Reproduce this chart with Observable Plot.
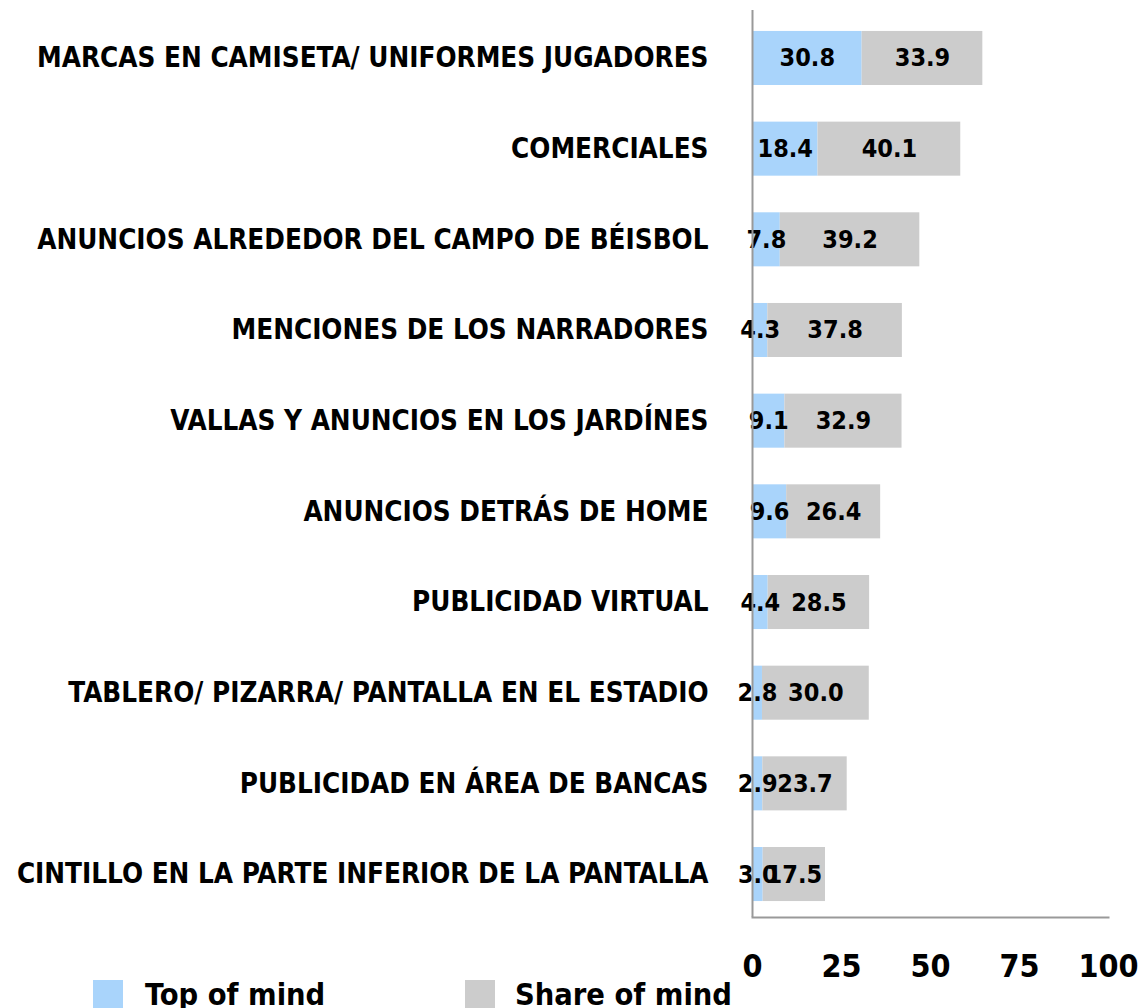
<!DOCTYPE html>
<html>
<head>
<meta charset="utf-8">
<script src="https://cdn.jsdelivr.net/npm/d3@7"></script>
<script src="https://cdn.jsdelivr.net/npm/@observablehq/plot@0.6"></script>
<style>
  html, body { margin: 0; padding: 0; background: #fff; }
  body { width: 1142px; height: 1008px; position: relative; overflow: hidden;
         font-family: "DejaVu Sans Condensed", "DejaVu Sans", sans-serif; font-stretch: condensed; }
  #chart svg { display: block; }
  #legend { position: absolute; top: 980px; left: 0; width: 1142px; height: 40px; }
  .item { position: absolute; top: 0; display: flex; align-items: flex-start; }
  .sw { width: 30px; height: 30px; display: inline-block; }
  .lab { font-weight: bold; font-size: 30.5px; line-height: 1; margin-top: 0px; color: #000; }
</style>
</head>
<body>
<div id="chart"></div>
<div id="legend"></div>
<script>
const categories = [
  "MARCAS EN CAMISETA/ UNIFORMES JUGADORES",
  "COMERCIALES",
  "ANUNCIOS ALREDEDOR DEL CAMPO DE BÉISBOL",
  "MENCIONES DE LOS NARRADORES",
  "VALLAS Y ANUNCIOS EN LOS JARDÍNES",
  "ANUNCIOS DETRÁS DE HOME",
  "PUBLICIDAD VIRTUAL",
  "TABLERO/ PIZARRA/ PANTALLA EN EL ESTADIO",
  "PUBLICIDAD EN ÁREA DE BANCAS",
  "CINTILLO EN LA PARTE INFERIOR DE LA PANTALLA"
];
const topOfMind   = [30.8, 18.4, 7.8, 4.3, 9.1, 9.6, 4.4, 2.8, 2.9, 3.0];
const shareOfMind = [33.9, 40.1, 39.2, 37.8, 32.9, 26.4, 28.5, 30.0, 23.7, 17.5];
const seriesNames = ["Top of mind", "Share of mind"];
const seriesColors = ["#A9D4FB", "#CCCCCC"];
const xTicks = [0, 25, 50, 75, 100];

const rows = [];
categories.forEach((c, i) => {
  rows.push({cat: c, series: seriesNames[0], value: topOfMind[i]});
  rows.push({cat: c, series: seriesNames[1], value: shareOfMind[i]});
});

const W = 1142, H = 985;
const chart = Plot.plot({
  width: W,
  height: H,
  marginLeft: 752,
  marginRight: 34,
  marginTop: 10,
  marginBottom: H - 917,
  style: {fontFamily: '"DejaVu Sans Condensed", "DejaVu Sans", sans-serif', fontStretch: "condensed", background: "transparent"},
  x: {domain: [0, 100], ticks: xTicks, label: null},
  y: {domain: categories, range: [15, 917], paddingInner: 0.404, paddingOuter: 0.176, round: false, label: null},
  color: {domain: seriesNames, range: seriesColors},
  marks: [
    Plot.barX(rows, {x: "value", y: "cat", fill: "series", inset: 0}),
    Plot.text(rows, Plot.stackX({x: "value", y: "cat", z: "series",
      text: d => d.value.toFixed(1), fontSize: 25, fontWeight: "bold", fill: "#000"})),
    Plot.ruleX([0], {stroke: "#999", strokeWidth: 2}),
    Plot.frame({anchor: "bottom", stroke: "#999", strokeWidth: 2}),
    Plot.axisX({ticks: xTicks, tickSize: 0, tickPadding: 37, fontSize: 32, fontWeight: "bold", fill: "#000", label: null}),
    Plot.axisY({tickSize: 0, tickPadding: 44, fontSize: 27.6, fontWeight: "bold", fill: "#000", label: null})
  ]
});
document.getElementById("chart").appendChild(chart);

const legend = document.getElementById("legend");
const positions = [93, 465];
seriesNames.forEach((s, i) => {
  const item = document.createElement("div");
  item.className = "item";
  item.style.left = positions[i] + "px";
  const sw = document.createElement("span");
  sw.className = "sw";
  sw.style.background = seriesColors[i];
  const lab = document.createElement("span");
  lab.className = "lab";
  lab.style.marginLeft = (i === 0 ? 22 : 20) + "px";
  lab.textContent = s;
  item.appendChild(sw);
  item.appendChild(lab);
  legend.appendChild(item);
});
</script>
</body>
</html>
